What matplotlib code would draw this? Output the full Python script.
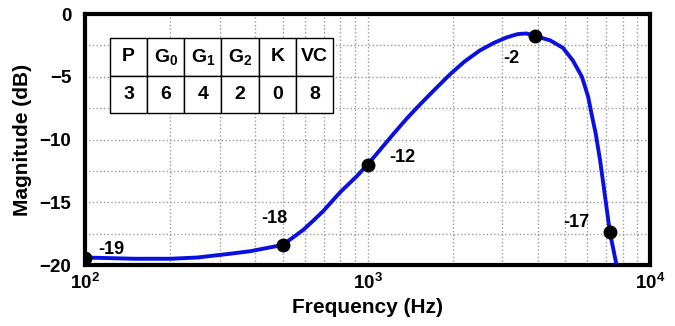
import numpy as np
import matplotlib.pyplot as plt
from matplotlib.ticker import LogLocator, NullFormatter

plt.rcParams['font.family'] = ['Liberation Sans', 'DejaVu Sans']
plt.rcParams['font.weight'] = 'bold'
plt.rcParams['mathtext.fontset'] = 'custom'
plt.rcParams['mathtext.rm'] = 'Liberation Sans:bold'
plt.rcParams['mathtext.bf'] = 'Liberation Sans:bold'
plt.rcParams['mathtext.it'] = 'Liberation Sans:bold'
plt.rcParams['mathtext.default'] = 'bf'

# response curve
freq = [100, 150, 200, 250, 326, 384, 427, 500, 545, 592, 640, 697, 750,
        800, 918, 1000, 1100, 1230, 1380, 1535, 1750, 1960, 2200, 2500,
        2800, 3120, 3400, 3650, 3920, 4430, 4920, 5330, 5740, 6040, 6240,
        6420, 6650, 6880, 7210, 7580]
mag = [-19.4, -19.5, -19.5, -19.4, -19.1, -18.9, -18.7, -18.4, -17.8, -17.2,
       -16.5, -15.7, -14.9, -14.2, -12.9, -12.0, -10.9, -9.6, -8.3, -7.2,
       -5.9, -4.8, -3.8, -2.9, -2.3, -1.85, -1.6, -1.55, -1.75, -2.1, -2.7,
       -3.7, -5.0, -6.6, -8.2, -9.5, -11.6, -14.0, -17.4, -19.8]

# marked points and their labels
pt_freq = [100, 500, 1000, 3920, 7210]
pt_mag = [-19.4, -18.4, -12.0, -1.75, -17.4]
pt_labels = ['-19', '-18', '-12', '-2', '-17']
label_offsets = [(19, 6), (-6, 19), (25, 5), (-17, -16), (-24, 7)]

# settings table
table_header = ['P', 'G$_0$', 'G$_1$', 'G$_2$', 'K', 'VC']
table_values = ['3', '6', '4', '2', '0', '8']

fig = plt.figure(figsize=(6.75, 3.26), dpi=100)
ax = fig.add_axes([0.126, 0.187, 0.837, 0.770])

ax.plot(freq, mag, color='#0a10e0', linewidth=2.8, zorder=3,
        solid_joinstyle='round')
ax.plot(pt_freq, pt_mag, 'o', color='black', markersize=9, zorder=4)

for f, m, lab, off in zip(pt_freq, pt_mag, pt_labels, label_offsets):
    ax.annotate(lab, (f, m), xytext=off, textcoords='offset points',
                ha='center', va='center', fontsize=13, fontweight='bold')

ax.set_xscale('log')
ax.set_xlim(100, 10000)
ax.set_ylim(-20, 0)
ax.set_yticks([0, -5, -10, -15, -20])
ax.xaxis.set_major_locator(LogLocator(base=10))
ax.xaxis.set_minor_locator(LogLocator(base=10, subs=np.arange(2, 10)))
ax.xaxis.set_minor_formatter(NullFormatter())
ax.set_yticks(np.arange(-17.5, 0, 2.5), minor=True)

ax.grid(True, which='both', linestyle=':', color='#9a9a9a', linewidth=1.0)
ax.tick_params(which='both', length=0, labelsize=13.5)
ax.tick_params(axis='y', pad=10)
ax.tick_params(axis='x', pad=6)
for s in ax.spines.values():
    s.set_linewidth(3)

ax.set_xlabel('Frequency (Hz)', fontsize=15, fontweight='bold', labelpad=3)
ax.set_ylabel('Magnitude (dB)', fontsize=15, fontweight='bold', labelpad=5)

tbl = ax.table(cellText=[table_header, table_values], cellLoc='center',
               bbox=[0.044, 0.606, 0.395, 0.298])
tbl.auto_set_font_size(False)
tbl.set_fontsize(14)
for cell in tbl.get_celld().values():
    cell.set_linewidth(1.0)
    cell.set_edgecolor('black')
    cell.get_text().set_fontweight('bold')
tbl.set_zorder(5)

fig.savefig('out.png', dpi=100)
